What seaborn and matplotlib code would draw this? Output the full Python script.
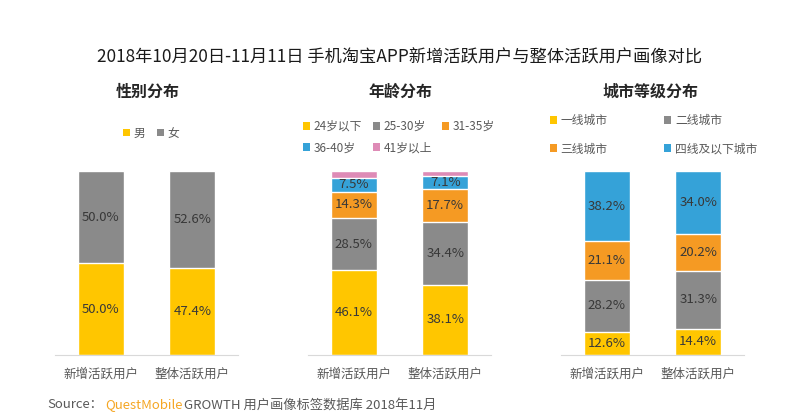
import numpy as np
import matplotlib
matplotlib.use("Agg")
import matplotlib.pyplot as plt
import seaborn as sns
from matplotlib.patches import Patch

sns.set_theme(style="white")
plt.rcParams['font.family'] = ['Noto Sans CJK SC', 'DejaVu Sans']

users = ["新增活跃用户", "整体活跃用户"]

gender_labels = ["男", "女"]
gender_new = [50.0, 50.0]
gender_all = [47.4, 52.6]

age_labels = ["24岁以下", "25-30岁", "31-35岁", "36-40岁", "41岁以上"]
age_new = [46.1, 28.5, 14.3, 7.5, 3.6]
age_all = [38.1, 34.4, 17.7, 7.1, 2.7]

city_labels = ["一线城市", "二线城市", "三线城市", "四线及以下城市"]
city_new = [12.6, 28.2, 21.1, 38.2]
city_all = [14.4, 31.3, 20.2, 34.0]

palette = ["#FFC600", "#8A8A8A", "#F59A23", "#35A2D8", "#DE8BB6"]
label_color = "#383838"
gray_text = "#595959"

fig = plt.figure(figsize=(8, 4.18), dpi=100)
fig.patch.set_facecolor("white")


def stacked(ax, new_vals, all_vals, show):
    new_vals = np.array(new_vals)
    all_vals = np.array(all_vals)
    cum_new = np.cumsum(new_vals)
    cum_all = np.cumsum(all_vals)
    n = len(new_vals)
    # draw tallest first so smaller ones sit on top
    for k in range(n - 1, -1, -1):
        sns.barplot(x=users, y=[cum_new[k], cum_all[k]], color=palette[k],
                    width=0.5, saturation=1, ax=ax)
    for k in range(n):
        if not show[k]:
            continue
        for i, (vals, cums) in enumerate([(new_vals, cum_new), (all_vals, cum_all)]):
            ax.text(i, cums[k] - vals[k] / 2, f"{vals[k]:.1f}%", ha="center",
                    va="center", fontsize=9.5, color=label_color)
    ax.set_xlim(-0.5, 1.5)
    ax.set_ylim(0, 100)
    ax.set_yticks([])
    ax.set_ylabel("")
    ax.set_xlabel("")
    for s in ["top", "left", "right"]:
        ax.spines[s].set_visible(False)
    ax.spines["bottom"].set_color("#D9D9D9")
    ax.spines["bottom"].set_linewidth(0.8)
    ax.tick_params(axis="x", length=0, labelsize=9, labelcolor=gray_text, pad=9)


def handles(labels, order):
    return [Patch(facecolor=palette[i], edgecolor="none", label=labels[i]) for i in order]


ax1 = fig.add_axes([55 / 800, 0.1507, 183 / 800, 0.44])
ax2 = fig.add_axes([308 / 800, 0.1507, 183 / 800, 0.44])
ax3 = fig.add_axes([561 / 800, 0.1507, 183 / 800, 0.44])

stacked(ax1, gender_new, gender_all, [True, True])
stacked(ax2, age_new, age_all, [True, True, True, True, False])
stacked(ax3, city_new, city_all, [True, True, True, True])

fig.text(0.5, 1 - 58 / 418, "2018年10月20日-11月11日 手机淘宝APP新增活跃用户与整体活跃用户画像对比",
         ha="center", va="center", fontsize=12.4, color="#1A1A1A")
for xc, t in [(148, "性别分布"), (400, "年龄分布"), (651, "城市等级分布")]:
    fig.text(xc / 800, 1 - 92 / 418, t, ha="center", va="center", fontsize=11.5,
             fontweight="bold", color="#262626")

leg_kw = dict(frameon=False, fontsize=8.5, handlelength=0.6, handleheight=0.6,
              handletextpad=0.3, labelcolor=gray_text, borderaxespad=0, borderpad=0)
fig.legend(handles=handles(gender_labels, [0, 1]), loc="center", ncol=2,
           bbox_to_anchor=(151 / 800, 1 - 133 / 418), columnspacing=1.0, **leg_kw)
# legends fill column by column, so reorder to read row by row
fig.legend(handles=handles(age_labels, [0, 3, 1, 4, 2]), loc="upper left", ncol=3,
           bbox_to_anchor=(303 / 800, 1 - 120 / 418), columnspacing=0.9,
           labelspacing=0.7, **leg_kw)
fig.legend(handles=handles(city_labels, [0, 2, 1, 3]), loc="upper left", ncol=2,
           bbox_to_anchor=(550 / 800, 1 - 114 / 418), columnspacing=4.8,
           labelspacing=1.3, **leg_kw)

# source line in three colours, each piece placed after the previous one
sy = 1 - 405 / 418
renderer = fig.canvas.get_renderer()
pieces = [("Source：", gray_text, 2), ("QuestMobile", "#F5A623", 2), ("GROWTH 用户画像标签数据库 2018年11月", gray_text, 0)]
x = 47
for txt, col, gap in pieces:
    t = fig.text(x / 800, sy, txt, ha="left", va="center", fontsize=9.5, color=col)
    bb = t.get_window_extent(renderer)
    x = bb.x1 + gap

fig.savefig("out.png", dpi=100, facecolor="white")
